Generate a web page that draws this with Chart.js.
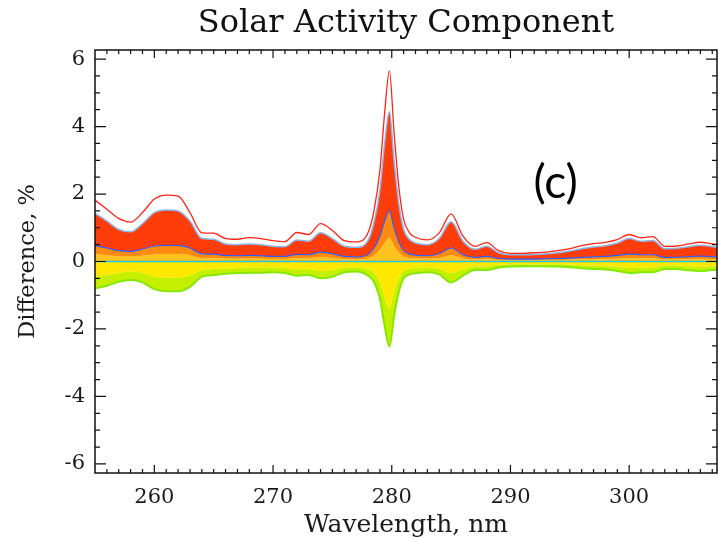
<!DOCTYPE html>
<html lang="en">
<head>
<meta charset="UTF-8" />
<title>Solar Activity Component</title>
<style>
  body { margin: 0; background: #fff; }
  #wrap { width: 718px; height: 542px; }
</style>
</head>
<body>
<div id="wrap"><canvas id="solarChart" width="718" height="542"></canvas></div>
<script src="https://cdn.jsdelivr.net/npm/chart.js@4"></script>
<script>
// wavelength grid, nm (denser round the 280 nm peak)
const wavelengths = [255, 256, 257, 258, 259, 260, 261, 262, 263, 264, 265, 266, 267, 268, 269, 270, 271, 272, 273, 274, 275, 276, 277, 278,
  278.5, 279, 279.4, 279.8, 280.2, 280.6, 281, 281.5,
  282, 283, 284, 285, 286, 287, 288, 289, 290, 291, 292, 293, 294, 295, 296, 297, 298, 299, 300, 301, 302, 303, 304, 305, 306, 307, 307.5];

// top red curve
const outline = [1.82, 1.55, 1.28, 1.17, 1.45, 1.85, 1.97, 1.94, 1.45, 0.85, 0.84, 0.68, 0.66, 0.71, 0.68, 0.62, 0.59, 0.86, 0.80, 1.12, 0.92, 0.62, 0.58, 0.85,
  1.5, 2.7, 4.4, 5.65, 3.8, 2.2, 1.25, 0.85,
  0.72, 0.64, 0.85, 1.41, 0.75, 0.45, 0.56, 0.32, 0.24, 0.24, 0.26, 0.28, 0.32, 0.38, 0.47, 0.53, 0.57, 0.65, 0.80, 0.70, 0.74, 0.45, 0.46, 0.52, 0.57, 0.52, 0.5];

// upper edge of the dense red bundle
const bandTop = [1.43, 1.2, 0.95, 0.88, 1.12, 1.45, 1.53, 1.5, 1.2, 0.68, 0.66, 0.52, 0.5, 0.52, 0.5, 0.45, 0.44, 0.64, 0.6, 0.85, 0.68, 0.45, 0.42, 0.62,
  1.15, 2.1, 3.5, 4.44, 2.95, 1.7, 0.95, 0.65,
  0.55, 0.5, 0.68, 1.18, 0.6, 0.36, 0.45, 0.26, 0.2, 0.2, 0.21, 0.23, 0.26, 0.31, 0.38, 0.43, 0.47, 0.55, 0.68, 0.6, 0.62, 0.38, 0.39, 0.44, 0.48, 0.44, 0.42];

// lower edge of the red bundle (blue curves)
const redBottom = [0.47, 0.4, 0.32, 0.3, 0.37, 0.46, 0.48, 0.48, 0.4, 0.23, 0.22, 0.18, 0.17, 0.18, 0.17, 0.15, 0.15, 0.21, 0.2, 0.28, 0.23, 0.15, 0.14, 0.21,
  0.4, 0.75, 1.2, 1.5, 1.0, 0.58, 0.33, 0.22,
  0.19, 0.17, 0.23, 0.4, 0.2, 0.12, 0.15, 0.09, 0.07, 0.07, 0.07, 0.08, 0.09, 0.1, 0.12, 0.14, 0.15, 0.18, 0.22, 0.2, 0.2, 0.12, 0.13, 0.14, 0.16, 0.14, 0.14];

// lower edge of the orange curves
const orangeBottom = [0.22, 0.18, 0.15, 0.14, 0.17, 0.21, 0.22, 0.22, 0.18, 0.1, 0.1, 0.08, 0.08, 0.08, 0.08, 0.07, 0.07, 0.1, 0.09, 0.13, 0.1, 0.07, 0.06, 0.1,
  0.18, 0.35, 0.55, 0.7, 0.45, 0.26, 0.15, 0.1,
  0.09, 0.08, 0.1, 0.18, 0.09, 0.05, 0.07, 0.04, 0.03, 0.03, 0.03, 0.04, 0.04, 0.05, 0.05, 0.06, 0.07, 0.08, 0.1, 0.09, 0.09, 0.05, 0.06, 0.06, 0.07, 0.06, 0.06];

// lower edge of the yellow curves
const yellowBottom = [-0.45, -0.4, -0.33, -0.3, -0.34, -0.45, -0.48, -0.48, -0.41, -0.25, -0.22, -0.2, -0.19, -0.18, -0.18, -0.18, -0.19, -0.23, -0.22, -0.28, -0.25, -0.18, -0.17, -0.23,
  -0.33, -0.6, -1.05, -1.4, -0.88, -0.5, -0.28, -0.21,
  -0.19, -0.18, -0.21, -0.34, -0.23, -0.14, -0.14, -0.1, -0.08, -0.08, -0.08, -0.08, -0.08, -0.09, -0.11, -0.12, -0.13, -0.15, -0.19, -0.18, -0.18, -0.12, -0.12, -0.14, -0.15, -0.14, -0.13];

// bottom green curve
const greenBottom = [-0.8, -0.72, -0.6, -0.55, -0.62, -0.82, -0.88, -0.88, -0.75, -0.45, -0.4, -0.36, -0.34, -0.33, -0.33, -0.32, -0.34, -0.42, -0.4, -0.5, -0.45, -0.32, -0.3, -0.42,
  -0.6, -1.1, -1.9, -2.52, -1.6, -0.9, -0.5, -0.38,
  -0.35, -0.32, -0.38, -0.62, -0.42, -0.25, -0.25, -0.18, -0.15, -0.14, -0.14, -0.14, -0.15, -0.17, -0.2, -0.22, -0.24, -0.28, -0.34, -0.32, -0.32, -0.22, -0.22, -0.26, -0.28, -0.25, -0.24];

// cyan curve at zero
const zeroX = [255, 307.5];
const zeroLine = [0, 0];

const xTicks = [260, 270, 280, 290, 300];
const yTicks = [-6, -4, -2, 0, 2, 4, 6];
const panelLabel = "(c)";

function pts(ys, xs) {
  xs = xs || wavelengths;
  return ys.map((y, i) => ({ x: xs[i], y: y }));
}

const serif = "'DejaVu Serif', serif";

// frame, inward ticks and the panel letter
const frameTicks = {
  id: "frameTicks",
  afterDraw(chart) {
    const { ctx, chartArea: a, scales } = chart;
    const x = scales.x, y = scales.y;
    ctx.save();
    ctx.strokeStyle = "#111";
    ctx.lineWidth = 1.5;
    ctx.strokeRect(a.left, a.top, a.right - a.left, a.bottom - a.top);
    ctx.lineWidth = 1.2;
    ctx.beginPath();
    for (let w = 256; w <= 307; w++) {
      const px = x.getPixelForValue(w);
      const len = w % 10 === 0 ? 8 : 4;
      ctx.moveTo(px, a.bottom); ctx.lineTo(px, a.bottom - len);
      ctx.moveTo(px, a.top); ctx.lineTo(px, a.top + len);
    }
    for (let v = -6; v <= 6; v += 0.5) {
      const py = y.getPixelForValue(v);
      const len = v % 2 === 0 ? 11 : 5;
      ctx.moveTo(a.left, py); ctx.lineTo(a.left + len, py);
      ctx.moveTo(a.right, py); ctx.lineTo(a.right - len, py);
    }
    ctx.stroke();
    ctx.font = "46px Lato, 'Open Sans', sans-serif";
    ctx.fillStyle = "#000";
    ctx.textAlign = "center";
    ctx.textBaseline = "middle";
    ctx.fillText(panelLabel, x.getPixelForValue(293.8), y.getPixelForValue(2.33));
    ctx.restore();
  }
};

const common = { pointRadius: 0, cubicInterpolationMode: "monotone" };

new Chart(document.getElementById("solarChart"), {
  type: "line",
  data: {
    datasets: [
      { ...common, data: pts(zeroLine, zeroX), borderColor: "#22c4e6", borderWidth: 1.5, fill: false },
      { ...common, data: pts(outline), borderColor: "#ff2418", borderWidth: 1.3, fill: false },
      { ...common, data: pts(orangeBottom), borderColor: "#ffb818", borderWidth: 0.5, backgroundColor: "#ffc21e", fill: "origin" },
      { ...common, data: pts(redBottom), borderColor: "#2a5cff", borderWidth: 1.2, backgroundColor: "#ff8a10", fill: "-1" },
      { ...common, data: pts(bandTop), borderColor: "#8fb4e8", borderWidth: 1.5, backgroundColor: "#ff3d0a", fill: "-1" },
      { ...common, data: pts(yellowBottom), borderColor: "#eef000", borderWidth: 0.5, backgroundColor: "#ffe800", fill: "origin" },
      { ...common, data: pts(greenBottom), borderColor: "#84e800", borderWidth: 2, backgroundColor: "#c4f000", fill: "-1" }
    ]
  },
  options: {
    responsive: false,
    animation: false,
    layout: { padding: { right: 1, top: 0, left: 0, bottom: 0 } },
    plugins: {
      legend: { display: false },
      tooltip: { enabled: false },
      title: {
        display: true,
        fullSize: false,
        text: "Solar Activity Component",
        color: "#111",
        font: { family: serif, size: 32, weight: "normal" },
        padding: { top: 4, bottom: 7.6 }
      }
    },
    scales: {
      x: {
        type: "linear",
        min: 255,
        max: 307.4,
        grid: { display: false, drawTicks: false },
        border: { display: false },
        afterBuildTicks: (s) => { s.ticks = xTicks.map((v) => ({ value: v })); },
        afterFit: (s) => { s.height = 69; },
        ticks: { autoSkip: false, maxRotation: 0, padding: 12, color: "#1a1a1a", font: { family: serif, size: 21 } },
        title: { display: true, text: "Wavelength, nm", color: "#1a1a1a", font: { family: serif, size: 25 }, padding: { top: 0, bottom: 2 } }
      },
      y: {
        type: "linear",
        min: -6.27,
        max: 6.27,
        grid: { display: false, drawTicks: false },
        border: { display: false },
        afterBuildTicks: (s) => { s.ticks = yTicks.map((v) => ({ value: v })); },
        afterFit: (s) => { s.width = 95; },
        ticks: { autoSkip: false, padding: 10, color: "#1a1a1a", font: { family: serif, size: 21 } },
        title: { display: true, text: "Difference, %", color: "#1a1a1a", font: { family: serif, size: 22.5 }, padding: { top: 15, bottom: 0 } }
      }
    }
  },
  plugins: [frameTicks]
});
</script>
</body>
</html>
